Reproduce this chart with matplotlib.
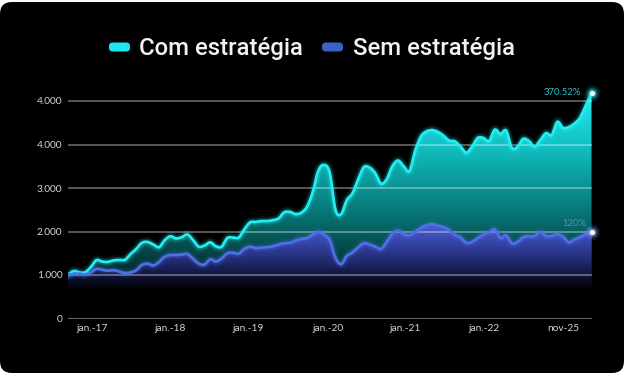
import numpy as np
import matplotlib
matplotlib.use("Agg")
import matplotlib.pyplot as plt
from matplotlib.patches import FancyBboxPatch, PathPatch
from matplotlib.path import Path
from matplotlib.colors import to_rgb

# ---------------- data ----------------
com_estrategia = [
    1000, 1090, 1060, 1060, 1180, 1340, 1310, 1300, 1335, 1345,
    1350, 1480, 1600, 1740, 1760, 1700, 1640, 1800, 1890, 1840,
    1870, 1930, 1800, 1650, 1680, 1750, 1660, 1650, 1850, 1860,
    1860, 2050, 2210, 2220, 2240, 2240, 2260, 2300, 2440, 2450,
    2400, 2430, 2570, 2900, 3400, 3530, 3350, 2500, 2400, 2720,
    2880, 3200, 3480, 3470, 3340, 3100, 3200, 3500, 3630, 3500,
    3390, 3850, 4180, 4300, 4330, 4290, 4200, 4090, 4070, 3950,
    3810, 3950, 4150, 4150, 4080, 4340, 4240, 4320, 3920, 3950,
    4130, 4080, 3950, 4100, 4260, 4220, 4520, 4380, 4400, 4480,
    4620, 4900, 5180,
]
sem_estrategia = [
    1000, 1020, 1030, 1010, 1060, 1140, 1120, 1100, 1110, 1080,
    1045, 1060, 1110, 1230, 1260, 1220, 1300, 1420, 1460, 1460,
    1470, 1480, 1370, 1260, 1240, 1360, 1310, 1380, 1500, 1510,
    1490, 1600, 1650, 1620, 1630, 1640, 1660, 1700, 1730, 1740,
    1790, 1830, 1850, 1930, 1990, 1930, 1800, 1400, 1250, 1440,
    1520, 1640, 1730, 1700, 1650, 1600, 1760, 1950, 2020, 1940,
    1910, 1990, 2080, 2150, 2170, 2130, 2100, 2030, 1920, 1860,
    1740, 1760, 1850, 1930, 1990, 2050, 1850, 1910, 1730, 1760,
    1870, 1890, 1900, 1990, 1900, 1900, 1940, 1880, 1750, 1820,
    1870, 1940, 1995,
]
x_tick_labels = ["jan.-17", "jan.-18", "jan.-19", "jan.-20", "jan.-21", "jan.-22", "nov-25"]
y_tick_values = [0, 1000, 2000, 3000, 4000, 5000]
y_tick_labels = ["0", "1.000", "2.000", "3.000", "4.000", "4.000"]
series_names = ["Com estratégia", "Sem estratégia"]
end_labels = ["370.52%", "120%"]

# ---------------- layout ----------------
W, H = 628, 377
fig = plt.figure(figsize=(W / 100, H / 100), dpi=100)
fig.patch.set_facecolor("white")

panel = FancyBboxPatch((0 / 100, (H - 373) / 100), 624 / 100, 371 / 100,
                       boxstyle="round,pad=0,rounding_size=0.12",
                       transform=fig.dpi_scale_trans, fc="black", ec="none", zorder=-5)
fig.patches.append(panel)

x0_px, x1_px = 68, 591.5
y0_px = 318.5
px_per_unit = 43.5 / 1000
ymax = 5400
top_px = y0_px - ymax * px_per_unit
ax = fig.add_axes([x0_px / W, (H - y0_px) / H, (x1_px - x0_px) / W, (y0_px - top_px) / H])
ax.set_facecolor("none")
ax.set_zorder(1)

x = np.arange(len(com_estrategia), dtype=float)
xmax = x[-1]
com = np.array(com_estrategia, dtype=float)
sem = np.array(sem_estrategia, dtype=float)


def smooth_path(xv, yv, closed_to_zero=False, t=1.0):
    """Catmull-Rom curve through the data points, as cubic Bezier segments."""
    pts = np.column_stack([xv, yv])
    n = len(pts)
    verts = [pts[0]]
    codes = [Path.MOVETO]
    for i in range(n - 1):
        p0 = pts[i - 1] if i > 0 else pts[i]
        p1 = pts[i]
        p2 = pts[i + 1]
        p3 = pts[i + 2] if i + 2 < n else pts[i + 1]
        c1 = p1 + (p2 - p0) / 6.0 * t
        c2 = p2 - (p3 - p1) / 6.0 * t
        verts += [c1, c2, p2]
        codes += [Path.CURVE4] * 3
    if closed_to_zero:
        verts += [(xv[-1], 0), (xv[0], 0), pts[0]]
        codes += [Path.LINETO, Path.LINETO, Path.CLOSEPOLY]
    return Path(np.array(verts), codes)


def gradient_fill(ax, xv, yv, stops, zorder):
    clip = smooth_path(xv, yv, closed_to_zero=True)
    vals = np.linspace(0, ymax, 400)
    sv = [s[0] for s in stops]
    cols = np.array([to_rgb(s[1]) for s in stops])
    img = np.zeros((len(vals), 1, 4))
    for c in range(3):
        img[:, 0, c] = np.interp(vals, sv, cols[:, c])
    img[:, 0, 3] = 1.0
    im = ax.imshow(img, extent=[xv[0], xv[-1], 0, ymax], origin="lower",
                   aspect="auto", zorder=zorder, interpolation="bilinear")
    im.set_clip_path(clip, transform=ax.transData)
    return im


cyan_stops = [(0, "#000000"), (500, "#000000"), (1000, "#02282a"), (2000, "#06605f"),
              (3000, "#0a9294"), (4000, "#12c2c4"), (5000, "#22e4e6"), (5400, "#2aeef0")]
blue_stops = [(0, "#000000"), (650, "#000000"), (1000, "#11163e"), (1300, "#212a6e"),
              (1700, "#3342a4"), (2100, "#4a5cc8"), (5400, "#4a5cc8")]

gradient_fill(ax, x, com, cyan_stops, zorder=2)
gradient_fill(ax, x, sem, blue_stops, zorder=3)

for v in y_tick_values:
    if v == 0:
        ax.axhline(v, color="#707070", lw=1.3, zorder=4)
    else:
        ax.axhline(v, color="white", alpha=0.44, lw=1.1, zorder=4)

cyan = "#22eef2"
blue = "#4f6fe6"
for yv, col in [(com, cyan), (sem, blue)]:
    p = smooth_path(x, yv)
    for lw, a in [(7, 0.08), (4.5, 0.18)]:
        ax.add_patch(PathPatch(p, fill=False, ec=col, lw=lw, alpha=a, zorder=5,
                               capstyle="round", joinstyle="round"))
    ax.add_patch(PathPatch(p, fill=False, ec=col, lw=2.0, zorder=6,
                           capstyle="round", joinstyle="round"))

for yv, gc in [(com[-1], "#22eef2"), (sem[-1], "#8fa6ff")]:
    for s, a in [(130, 0.12), (65, 0.25), (32, 0.5)]:
        ax.scatter([xmax], [yv], s=s, color=gc, alpha=a, zorder=7, lw=0, clip_on=False)
    ax.scatter([xmax], [yv], s=13, color="white", zorder=8, lw=0, clip_on=False)

ax.annotate(end_labels[0], (xmax, com[-1]), xytext=(-8, 0.5), textcoords="offset points",
            ha="right", va="center", color="#2cc3cc", fontsize=6.8, family="Lato", zorder=9)
ax.annotate(end_labels[1], (xmax, sem[-1]), xytext=(-4, 6), textcoords="offset points",
            ha="right", va="center", color="#5f86d6", fontsize=6.8, family="Lato", zorder=9)

ax.set_xlim(0, xmax)
ax.set_ylim(0, ymax)
tick_px = [92, 170.5, 248.5, 327.5, 405.5, 484, 563]
ax.set_xticks([(p - x0_px) / (x1_px - x0_px) * xmax for p in tick_px])
ax.set_xticklabels(x_tick_labels)
ax.set_yticks(y_tick_values)
ax.set_yticklabels(y_tick_labels)
ax.tick_params(axis="both", length=0, colors="#d6d6d6", labelsize=7.3)
ax.tick_params(axis="y", pad=4)
ax.tick_params(axis="x", pad=4)
for lab in ax.get_xticklabels() + ax.get_yticklabels():
    lab.set_family("Lato")
for sp in ax.spines.values():
    sp.set_visible(False)


def fx(px):
    return px / W


def fy(py):
    return 1 - py / H


for (sx0, sx1, col) in [(109, 130, "#1de6f0"), (322, 343, "#3a62c6")]:
    fig.patches.append(FancyBboxPatch((fx(sx0), fy(51.5)), fx(sx1 - sx0), (51.5 - 42.5) / H,
                                      boxstyle="round,pad=0,rounding_size=0.006",
                                      transform=fig.transFigure, fc=col, ec="none",
                                      mutation_aspect=W / H, zorder=2))
fig.text(fx(139), fy(54.5), series_names[0], color="#f2f2f2", fontsize=17.2,
         family="Roboto", fontweight="medium", va="baseline", ha="left")
fig.text(fx(353), fy(54.5), series_names[1], color="#f2f2f2", fontsize=17.2,
         family="Roboto", fontweight="medium", va="baseline", ha="left")

fig.savefig("out.png", dpi=100, facecolor="white")
